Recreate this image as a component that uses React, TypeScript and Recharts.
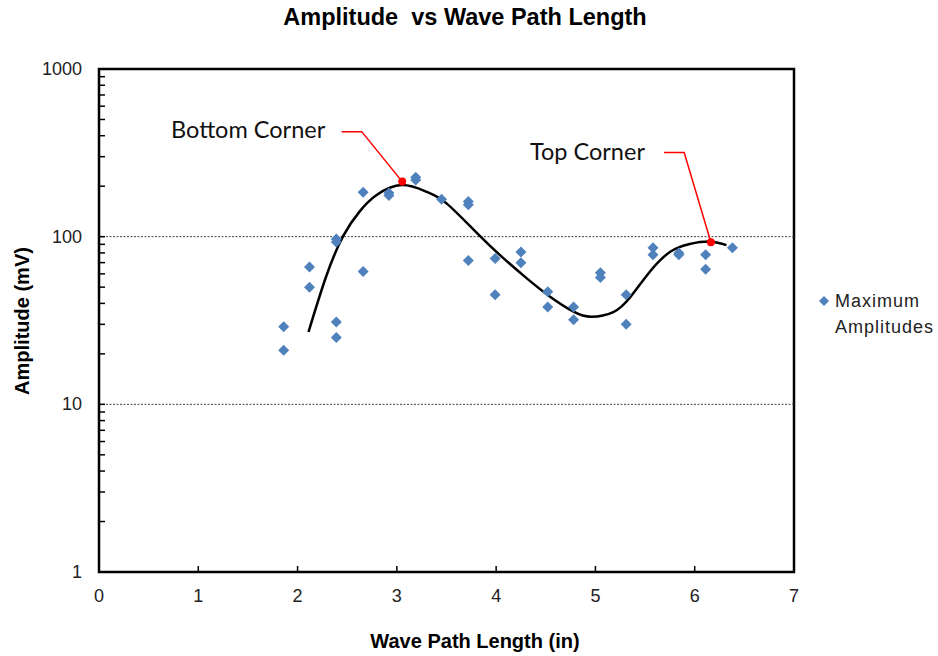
import React from 'react';
import {
  ComposedChart,
  XAxis,
  YAxis,
  Scatter,
  Line,
  ReferenceLine,
  ReferenceDot,
  ReferenceArea,
} from 'recharts';

// ---- data ----
const pathLength = [
  1.86, 1.86, 2.12, 2.12, 2.39, 2.39, 2.39, 2.39, 2.66, 2.66, 2.92, 2.92,
  3.19, 3.19, 3.45, 3.72, 3.72, 3.72, 3.99, 3.99, 4.25, 4.25, 4.52, 4.52,
  4.78, 4.78, 5.05, 5.05, 5.31, 5.31, 5.58, 5.58, 5.84, 5.84, 6.11, 6.11, 6.38,
];
const maxAmplitude = [
  29, 21, 66, 50, 97, 93, 31, 25, 184, 62, 182, 176,
  226, 218, 167, 162, 155, 72, 74, 45, 81, 70, 47, 38,
  38, 32, 61, 57, 45, 30, 86, 78, 80, 78, 78, 64, 86,
];

const trendX = [2.11, 2.286, 2.46, 2.628, 2.796, 3.05, 3.3, 3.5, 3.8, 4.05, 4.3, 4.54, 4.78, 4.96, 5.18, 5.35, 5.55, 5.75, 5.95, 6.16, 6.32];
const trendY = [27, 57.5, 101, 142, 177, 203, 185, 158, 106, 76.5, 57, 44, 35.7, 33.3, 35.5, 43.5, 62, 81, 90.4, 93.4, 89];

const xTicks = [0, 1, 2, 3, 4, 5, 6, 7];
const yMajorTicks = [1, 10, 100, 1000];
const yAllTicks = [
  1, 2, 3, 4, 5, 6, 7, 8, 9,
  10, 20, 30, 40, 50, 60, 70, 80, 90,
  100, 200, 300, 400, 500, 600, 700, 800, 900,
  1000,
];
const gridValues = [10, 100];

const bottomCornerX = [2.444, 2.646, 3.054];
const bottomCornerY = [423, 423, 213];
const topCornerX = [5.69, 5.894, 6.163];
const topCornerY = [318, 318, 92.6];

const points = pathLength.map((x, i) => ({ x, y: maxAmplitude[i] }));
const trend = trendX.map((x, i) => ({ x, y: trendY[i] }));
const bottomLeader = bottomCornerX.map((x, i) => ({ x, y: bottomCornerY[i] }));
const topLeader = topCornerX.map((x, i) => ({ x, y: topCornerY[i] }));

const ARIAL = '"Liberation Sans", Arial, sans-serif';
const BLUE = '#4F81BD';

const Diamond = (props: any) => {
  const { cx, cy } = props;
  const r = 5.5;
  return (
    <path
      d={`M${cx},${cy - r}L${cx + r},${cy}L${cx},${cy + r}L${cx - r},${cy}Z`}
      fill={BLUE}
    />
  );
};

const Y_MARGIN = 17;
const YTick = (props: any) => {
  const { x, y, payload } = props;
  const v = payload.value;
  const major = yMajorTicks.includes(v);
  const ax = x + Y_MARGIN;
  return (
    <g>
      {v !== 1 && v !== 1000 && (
        <line x1={ax} x2={ax + 6} y1={y} y2={y} stroke="#000" strokeWidth={1.5} />
      )}
      {major && (
        <text x={x} y={y} textAnchor="end" dominantBaseline="central" fontFamily={ARIAL} fontSize={18} fill="#222">
          {v}
        </text>
      )}
    </g>
  );
};

const X_MARGIN = 24;
const XTick = (props: any) => {
  const { x, y, payload } = props;
  const v = payload.value;
  const ay = y - X_MARGIN;
  return (
    <g>
      {v !== 0 && v !== 7 && (
        <line x1={x} x2={x} y1={ay} y2={ay - 6} stroke="#000" strokeWidth={1.5} />
      )}
      <text x={x} y={y} textAnchor="middle" dominantBaseline="central" fontFamily={ARIAL} fontSize={18} fill="#222">
        {v}
      </text>
    </g>
  );
};

export default function App() {
  return (
    <div style={{ position: 'absolute', left: 0, top: 0, width: 938, height: 656, background: '#fff' }}>
      <ComposedChart
        width={938}
        height={656}
        margin={{ top: 69, right: 144, bottom: 0, left: 0 }}
      >
        <XAxis
          type="number"
          dataKey="x"
          domain={[0, 7]}
          ticks={xTicks}
          interval={0}
          height={84}
          axisLine={false}
          tickLine={false}
          tickSize={0}
          tickMargin={X_MARGIN}
          tick={(p: any) => <XTick {...p} />}
          allowDataOverflow
        />
        <YAxis
          type="number"
          dataKey="y"
          scale="log"
          domain={[1, 1000]}
          ticks={yAllTicks}
          interval={0}
          width={99}
          axisLine={false}
          tickLine={false}
          tickSize={0}
          tickMargin={Y_MARGIN}
          tick={(p: any) => <YTick {...p} />}
          allowDataOverflow
        />
        {gridValues.map((g) => (
          <ReferenceLine key={g} y={g} stroke="#444" strokeWidth={1} strokeDasharray="2 1.5" />
        ))}
        <Scatter data={points} dataKey="y" fill={BLUE} shape={<Diamond />} isAnimationActive={false} />
        <Line
          data={trend}
          dataKey="y"
          type="natural"
          stroke="#000"
          strokeWidth={2.5}
          dot={false}
          activeDot={false}
          isAnimationActive={false}
        />
        <Line data={bottomLeader} dataKey="y" type="linear" stroke="#FF0000" strokeWidth={1.5} dot={false} activeDot={false} isAnimationActive={false} />
        <Line data={topLeader} dataKey="y" type="linear" stroke="#FF0000" strokeWidth={1.5} dot={false} activeDot={false} isAnimationActive={false} />
        <ReferenceDot x={bottomCornerX[2]} y={bottomCornerY[2]} r={4} fill="#FF0000" stroke="none" />
        <ReferenceDot x={topCornerX[2]} y={topCornerY[2]} r={4} fill="#FF0000" stroke="none" />
        <ReferenceArea x1={0} x2={7} y1={1} y2={1000} fill="none" fillOpacity={0} stroke="#000" strokeWidth={2.5} />
      </ComposedChart>
      <svg
        width={938}
        height={656}
        style={{ position: 'absolute', left: 0, top: 0, pointerEvents: 'none' }}
      >
        <text x={465} y={25} textAnchor="middle" fontFamily={ARIAL} fontWeight="bold" fontSize={23.5} fill="#000" xmlSpace="preserve">
          Amplitude  vs Wave Path Length
        </text>
        <text x={475} y={648} textAnchor="middle" fontFamily={ARIAL} fontWeight="bold" fontSize={20} fill="#000">
          Wave Path Length (in)
        </text>
        <text transform="translate(29,321) rotate(-90)" textAnchor="middle" fontFamily={ARIAL} fontWeight="bold" fontSize={20} fill="#000">
          Amplitude (mV)
        </text>
        <text x={171} y={138} fontFamily="Lato, sans-serif" fontSize={23.5} fill="#111">
          Bottom Corner
        </text>
        <text x={530} y={160} fontFamily="Lato, sans-serif" fontSize={23.5} fill="#111">
          Top Corner
        </text>
        <path d="M824,296 L829,301 L824,306 L819,301 Z" fill={BLUE} />
        <text x={835} y={301} dominantBaseline="central" fontFamily={ARIAL} fontSize={18} letterSpacing={1} fill="#222">
          Maximum
        </text>
        <text x={835} y={327} dominantBaseline="central" fontFamily={ARIAL} fontSize={18} letterSpacing={1} fill="#222">
          Amplitudes
        </text>
      </svg>
    </div>
  );
}
